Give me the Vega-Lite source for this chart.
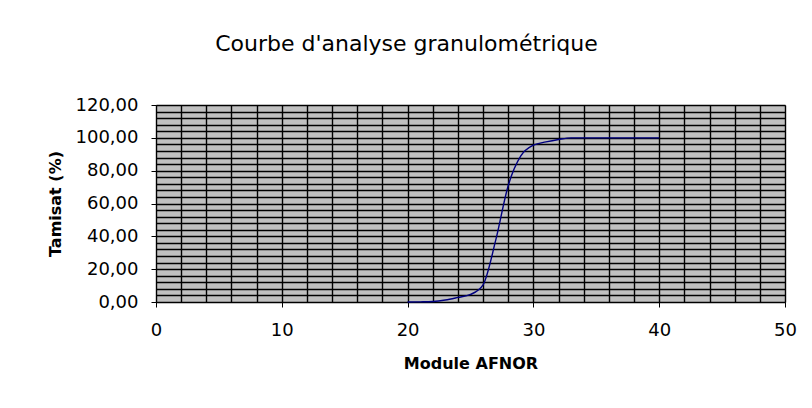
{
  "$schema": "https://vega.github.io/schema/vega-lite/v6.json",
  "autosize": {"type": "none"},
  "width": 629,
  "height": 197,
  "padding": {"left": 156, "top": 105, "right": 27, "bottom": 106},
  "background": "white",
  "config": {
    "font": "DejaVu Sans",
    "view": {"fill": "#c0c0c0", "stroke": "#808080", "strokeWidth": 1}
  },
  "title": {
    "text": "Courbe d'analyse granulométrique",
    "fontSize": 22,
    "fontWeight": "normal",
    "font": "DejaVu Sans",
    "color": "#000000",
    "anchor": "middle",
    "frame": "group",
    "dx": -64,
    "offset": 40
  },
  "data": {
    "values": [
      {"module": 20, "tamisat": 0.0},
      {"module": 21, "tamisat": 0.1},
      {"module": 22, "tamisat": 0.3},
      {"module": 23, "tamisat": 1.2},
      {"module": 24, "tamisat": 2.8},
      {"module": 25, "tamisat": 4.6},
      {"module": 26, "tamisat": 10.5},
      {"module": 27, "tamisat": 37.5},
      {"module": 28, "tamisat": 71.0},
      {"module": 29, "tamisat": 89.0},
      {"module": 30, "tamisat": 95.5},
      {"module": 31, "tamisat": 97.5},
      {"module": 32, "tamisat": 99.0},
      {"module": 33, "tamisat": 100.0},
      {"module": 34, "tamisat": 100.0},
      {"module": 35, "tamisat": 100.0},
      {"module": 36, "tamisat": 100.0},
      {"module": 37, "tamisat": 100.0},
      {"module": 38, "tamisat": 100.0},
      {"module": 39, "tamisat": 100.0},
      {"module": 40, "tamisat": 100.0}
    ]
  },
  "mark": {"type": "line", "color": "#000080", "strokeWidth": 1.4, "interpolate": "monotone"},
  "encoding": {
    "x": {
      "field": "module",
      "type": "quantitative",
      "scale": {"domain": [0, 50], "nice": false, "zero": false},
      "axis": {
        "title": "Module AFNOR",
        "titleFont": "DejaVu Sans",
        "titleFontSize": 16,
        "titleFontWeight": "bold",
        "titleColor": "#000000",
        "titlePadding": 16,
        "values": [0,2,4,6,8,10,12,14,16,18,20,22,24,26,28,30,32,34,36,38,40,42,44,46,48,50],
        "labelExpr": "datum.value % 10 === 0 ? datum.label : ''",
        "labelFontSize": 18,
        "labelColor": "#000000",
        "labelPadding": 14,
        "labelFlush": false,
        "labelOverlap": false,
        "tickSize": 5,
        "tickColor": "#000000",
        "tickOpacity": {"condition": {"test": "datum.value % 10 === 0", "value": 1}, "value": 0},
        "domainColor": "#000000",
        "grid": true,
        "gridColor": "#000000",
        "gridWidth": 1.4,
        "gridOpacity": 1
      }
    },
    "y": {
      "field": "tamisat",
      "type": "quantitative",
      "scale": {"domain": [0, 120], "nice": false},
      "axis": {
        "title": "Tamisat (%)",
        "titleFont": "DejaVu Sans",
        "titleFontSize": 16,
        "titleFontWeight": "bold",
        "titleColor": "#000000",
        "titlePadding": 12,
        "values": [0,4,8,12,16,20,24,28,32,36,40,44,48,52,56,60,64,68,72,76,80,84,88,92,96,100,104,108,112,116,120],
        "labelExpr": "datum.value % 20 === 0 ? replace(format(datum.value, '.2f'), '.', ',') : ''",
        "labelFontSize": 18,
        "labelColor": "#000000",
        "labelPadding": 13,
        "labelFlush": false,
        "labelOverlap": false,
        "tickSize": 5,
        "tickColor": "#000000",
        "tickOpacity": {"condition": {"test": "datum.value % 20 === 0", "value": 1}, "value": 0},
        "domainColor": "#000000",
        "grid": true,
        "gridColor": "#000000",
        "gridWidth": 1.4,
        "gridOpacity": 1
      }
    }
  }
}
